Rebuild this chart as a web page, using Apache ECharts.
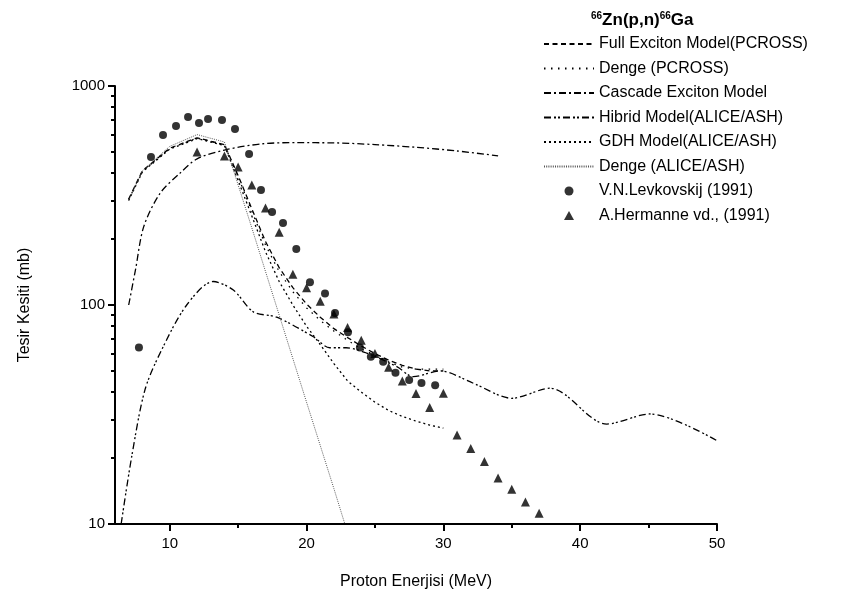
<!DOCTYPE html>
<html><head><meta charset="utf-8">
<script src="https://cdn.jsdelivr.net/npm/echarts@6/dist/echarts.min.js"></script>
<style>html,body{margin:0;padding:0;background:#fff}#c{width:867px;height:599px}</style>
</head><body><div id="c"></div>
<script>
// ---- data ----
const xMajorTicks = [10, 20, 30, 40, 50];
const xMinorTicks = [15, 25, 35, 45];
const yMajorTicks = [10, 100, 1000];
const yMinorTicks = [20, 30, 40, 50, 60, 70, 80, 90, 200, 300, 400, 500, 600, 700, 800, 900];

const fullExcX = [7, 8, 10, 12, 14, 15, 16, 17, 18, 19, 20, 21, 22, 23, 24, 25, 26, 27, 28, 29, 30];
const fullExcY = [305, 410, 520, 580, 540, 390, 275, 195, 148, 120, 101, 88, 78, 71, 65, 60, 56, 53, 51, 50, 50];

const dengePcX = [7, 8, 10, 12, 14, 15, 16, 17, 18, 19, 20, 21, 22, 23, 24, 25, 26, 27, 28, 29, 30];
const dengePcY = [303, 408, 518, 578, 538, 385, 268, 188, 142, 115, 97, 85, 76, 69, 63, 59, 55, 52, 51, 51, 51];

const cascadeX = [7.0, 7.5, 8.1, 9.3, 10.75, 12.0, 14.0, 16.8, 19.3, 22, 25, 28, 31, 34];
const cascadeY = [100, 145, 228, 324, 400, 465, 510, 545, 551, 550, 540, 525, 505, 480];

const hibridX = [6.45, 7.22, 8.19, 9.41, 11.24, 13.19, 14.65, 16.11, 17.82, 20.5, 21.7, 22.9, 24.4, 26.6, 27.8, 29.76, 32.2, 35.0, 37.8, 41.94, 45.1, 50];
const hibridY = [10, 20.3, 41, 62.4, 100, 128, 117, 93, 88, 71.6, 63.8, 63.8, 60.3, 52.3, 47.1, 50, 43.9, 37.5, 41.7, 28.6, 31.8, 24];

const gdhX = [7, 8, 10, 12, 14, 15, 16, 17, 18, 19, 20, 21, 22, 23, 24, 25, 26, 27, 28, 29, 30];
const gdhY = [300, 405, 515, 575, 535, 370, 255, 175, 128, 100, 80, 66, 54, 45, 40, 36, 33, 31, 29.5, 28.3, 27.4];

const dengeAlX = [7, 8, 10, 12, 14, 16, 18, 20, 22, 22.8];
const dengeAlY = [300, 410, 530, 600, 555, 225, 90, 36, 14.5, 10];

const levX = [7.75, 8.63, 9.51, 10.46, 11.34, 12.14, 12.80, 13.82, 14.77, 15.80, 16.67, 17.48, 18.28, 19.25, 20.25, 21.35, 22.08, 23.03, 23.9, 24.7, 25.6, 26.5, 27.5, 28.4, 29.4];
const levY = [64, 474, 597, 656, 722, 677, 706, 700, 636, 489, 335, 266, 237, 180, 127, 113, 92, 75, 64, 58, 55, 49, 45.5, 44, 43];

const herX = [12, 14, 15, 16, 17, 18, 19, 20, 21, 22, 23, 24, 25, 26, 27, 28, 29, 30, 31, 32, 33, 34, 35, 36, 37];
const herY = [500, 479, 427, 353, 277, 215, 138, 120, 104, 91, 79, 69, 60, 52, 45, 39.4, 34, 39.5, 25.5, 22.1, 19.3, 16.2, 14.4, 12.6, 11.2];

const seriesNames = ['Full Exciton Model(PCROSS)', 'Denge (PCROSS)', 'Cascade Exciton Model', 'Hibrid Model(ALICE/ASH)', 'GDH Model(ALICE/ASH)', 'Denge (ALICE/ASH)', 'V.N.Levkovskij (1991)', 'A.Hermanne vd., (1991)'];

// ---- chart ----
const zip = (xs, ys) => xs.map((x, i) => [x, ys[i]]);
const FONT = 'Liberation Sans, Arial, sans-serif';
const chart = echarts.init(document.getElementById('c'), null, {renderer: 'canvas'});

function lineSeries(name, xs, ys, dash, width, smooth, color) {
  return {
    name, type: 'line', data: zip(xs, ys), symbol: 'none', smooth: smooth,
    lineStyle: {color: color || '#000', width: width, type: dash},
    itemStyle: {color: color || '#000'}, z: 2, animation: false
  };
}

const hiddenIcon = {color: 'rgba(0,0,0,0)', borderColor: 'rgba(0,0,0,0)', borderWidth: 0};
const legendData = seriesNames.map((n, i) => {
  if (i < 6) return {name: n, itemStyle: hiddenIcon};
  if (i === 6) return {name: n, icon: 'circle'};
  return {name: n, icon: 'path://M5,0L10,9L0,9Z'};
});

chart.setOption({
  backgroundColor: '#fff',
  animation: false,
  textStyle: {fontFamily: FONT},
  title: {
    text: '{s|66}{b|Zn(p,n)}{s|66}{b|Ga}',
    left: 586, top: 6,
    textStyle: {rich: {
      b: {fontSize: 17, fontWeight: 'bold', fontFamily: FONT, color: '#000'},
      s: {fontSize: 10, fontWeight: 'bold', fontFamily: FONT, color: '#000', padding: [0, 0, 9, 0]}
    }}
  },
  legend: {
    orient: 'vertical', left: 538, top: 31, itemWidth: 50, itemHeight: 9, itemGap: 8.5,
    symbolKeepAspect: true,
    textStyle: {fontSize: 16, color: '#000', fontFamily: FONT},
    data: legendData
  },
  grid: {left: 115, right: 150, top: 86, bottom: 75},
  xAxis: [{
    type: 'value', min: 6, max: 50,
    axisLine: {lineStyle: {color: '#000', width: 2}},
    axisTick: {show: true, length: 7, inside: false, lineStyle: {color: '#000', width: 2}, customValues: xMajorTicks},
    axisLabel: {color: '#000', fontSize: 15, fontFamily: FONT, margin: 12, customValues: xMajorTicks},
    splitLine: {show: false},
    name: 'Proton Enerjisi (MeV)', nameLocation: 'middle', nameGap: 50,
    nameTextStyle: {fontSize: 16, color: '#000', fontFamily: FONT}
  }, {
    type: 'value', min: 6, max: 50, gridIndex: 0, position: 'bottom',
    axisLine: {show: false},
    axisTick: {show: true, length: 4, lineStyle: {color: '#000', width: 2}, customValues: xMinorTicks},
    axisLabel: {show: false}, splitLine: {show: false}
  }],
  yAxis: [{
    type: 'log', logBase: 10, min: 10, max: 1000,
    axisLine: {show: true, lineStyle: {color: '#000', width: 2}},
    axisTick: {show: true, length: 7, lineStyle: {color: '#000', width: 2}, customValues: yMajorTicks},
    axisLabel: {color: '#000', fontSize: 15, fontFamily: FONT, margin: 10, customValues: yMajorTicks,
      formatter: v => String(Math.round(v))},
    splitLine: {show: false}, minorTick: {show: false},
    name: 'Tesir Kesiti (mb)', nameLocation: 'middle', nameGap: 82,
    nameTextStyle: {fontSize: 16, color: '#000', fontFamily: FONT}
  }, {
    type: 'log', logBase: 10, min: 10, max: 1000, gridIndex: 0, position: 'left',
    axisLine: {show: false},
    axisTick: {show: true, length: 4, lineStyle: {color: '#000', width: 2}, customValues: yMinorTicks},
    axisLabel: {show: false}, splitLine: {show: false}
  }],
  series: [
    lineSeries(seriesNames[0], fullExcX, fullExcY, [5, 3.5], 1.3, false),
    lineSeries(seriesNames[1], dengePcX, dengePcY, [1.5, 5.5], 1.3, false),
    lineSeries(seriesNames[2], cascadeX, cascadeY, [7, 3, 2, 3], 1.3, 0.3),
    lineSeries(seriesNames[3], hibridX, hibridY, [7, 3, 2, 2, 2, 3], 1.3, 0.3),
    lineSeries(seriesNames[4], gdhX, gdhY, [2, 3], 1.3, false),
    lineSeries(seriesNames[5], dengeAlX, dengeAlY, [1, 1.2], 1, false, '#555'),
    {name: seriesNames[6], type: 'scatter', data: zip(levX, levY), symbol: 'circle', symbolSize: 8,
     itemStyle: {color: '#000'}, z: 3},
    {name: seriesNames[7], type: 'scatter', data: zip(herX, herY), symbol: 'triangle', symbolSize: 9,
     itemStyle: {color: '#000'}, z: 3}
  ]
});
</script>
</body></html>
